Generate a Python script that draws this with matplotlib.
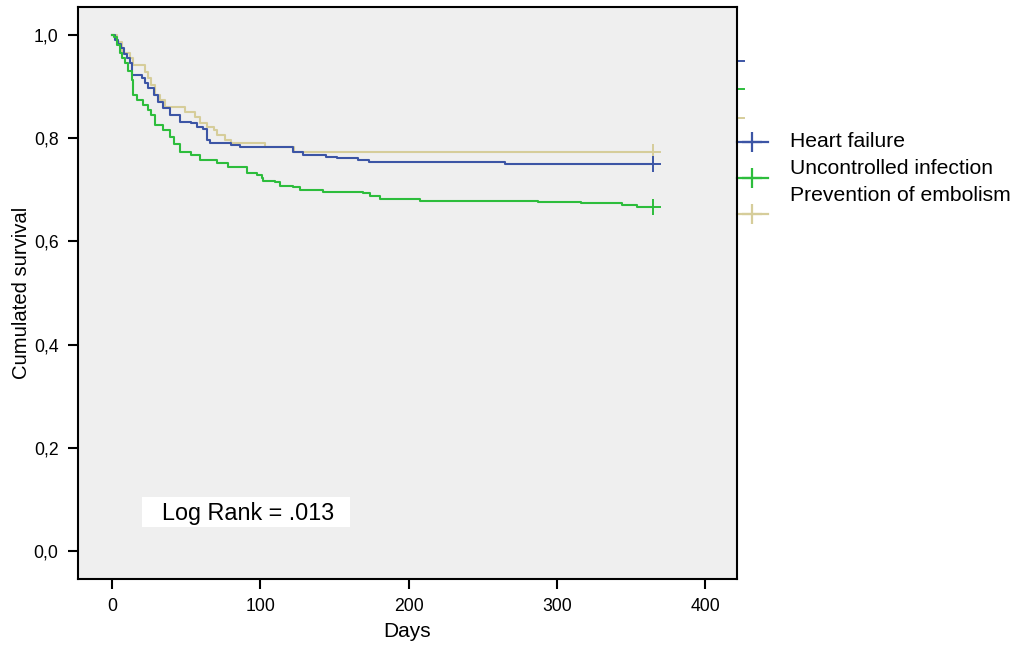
import matplotlib
matplotlib.use('Agg')
import matplotlib.pyplot as plt
from matplotlib.patches import Rectangle

plt.rcParams['font.family'] = ['Liberation Sans', 'DejaVu Sans']

# Kaplan-Meier step points: time of each event (days) and survival after it
hf_days = [0, 2, 4, 6, 8, 10, 12, 13.5, 20, 22, 24, 28, 31, 34, 39, 46, 53, 57, 61,
           64, 66, 80, 86, 122, 129, 144, 152, 166, 173, 265, 365]
hf_surv = [1.0, 0.990, 0.982, 0.975, 0.963, 0.955, 0.945, 0.922, 0.917, 0.907, 0.897,
           0.884, 0.870, 0.859, 0.845, 0.831, 0.829, 0.822, 0.818, 0.797, 0.791, 0.787,
           0.783, 0.773, 0.767, 0.764, 0.762, 0.758, 0.754, 0.750, 0.750]

inf_days = [0, 1, 3, 5, 7, 9, 11, 13.5, 14, 17, 21, 24, 26, 29, 34, 39, 42, 46, 53, 59,
            71, 78, 91, 98, 101, 102, 110, 113, 122, 127, 142, 169, 174, 181, 208, 287,
            316, 344, 354, 365]
inf_surv = [1.0, 0.996, 0.980, 0.965, 0.955, 0.946, 0.930, 0.913, 0.884, 0.874, 0.864,
            0.855, 0.845, 0.826, 0.816, 0.802, 0.788, 0.773, 0.767, 0.758, 0.752, 0.744,
            0.733, 0.729, 0.723, 0.717, 0.715, 0.707, 0.705, 0.699, 0.696, 0.694, 0.688,
            0.682, 0.678, 0.676, 0.674, 0.671, 0.667, 0.667]

emb_days = [0, 3, 7, 12, 14, 22, 24, 26, 29, 32, 36, 49, 56, 59, 64, 69, 71, 76, 80,
            103, 123, 365]
emb_surv = [1.0, 0.986, 0.965, 0.955, 0.942, 0.928, 0.917, 0.903, 0.884, 0.874, 0.860,
            0.851, 0.841, 0.829, 0.822, 0.816, 0.806, 0.797, 0.791, 0.783, 0.773, 0.773]

labels = ['Heart failure', 'Uncontrolled infection', 'Prevention of embolism']
colors = ['#3c55a5', '#2dbd3c', '#d6cd9a']
x_ticks = [0, 100, 200, 300, 400]
y_ticks = [0.0, 0.2, 0.4, 0.6, 0.8, 1.0]
log_rank = '.013'

fig = plt.figure(figsize=(10.17, 6.46), dpi=100)
ax = fig.add_axes([78 / 1017, 67 / 646, 659 / 1017, 572 / 646])
ax.set_facecolor('#efefef')

series = [(hf_days, hf_surv), (inf_days, inf_surv), (emb_days, emb_surv)]
# draw the tan curve underneath the others
for idx in [2, 0, 1]:
    d, s = series[idx]
    ax.step(d, s, where='post', color=colors[idx], lw=1.5, zorder=3)
    ax.plot(d[-1], s[-1], marker='+', ms=11, mew=1.4, color=colors[idx], zorder=4)

ax.set_xlim(-23, 421.5)
ax.set_ylim(-0.054, 1.054)
ax.set_xticks(x_ticks)
ax.set_yticks(y_ticks)
ax.set_yticklabels(['{:.1f}'.format(v).replace('.', ',') for v in y_ticks])
ax.tick_params(direction='out', length=7, width=1.5, labelsize=12.7, pad=7)
for sp in ax.spines.values():
    sp.set_linewidth(1.5)

ax.set_xlabel('Days', fontsize=15, labelpad=5)
ax.set_ylabel('Cumulated survival', fontsize=14.6, labelpad=2)

# log rank test result box
ax.add_patch(Rectangle((0.097, 0.091), 0.316, 0.052, transform=ax.transAxes,
                       facecolor='white', edgecolor='none', zorder=2))
ax.text(0.258, 0.114, 'Log Rank = ' + log_rank, transform=ax.transAxes,
        ha='center', va='center', fontsize=16.8, zorder=5)

# legend drawn by hand outside the right spine
tick_y = [0.906, 0.857, 0.806]
handle_y = [0.764, 0.701, 0.638]
text_y = [0.764, 0.717, 0.670]
for c, ty, hy, lab, txy in zip(colors, tick_y, handle_y, labels, text_y):
    ax.plot([1.0, 1.0106], [ty, ty], color=c, lw=1.4, transform=ax.transAxes,
            clip_on=False)
    ax.plot([1.0, 1.047], [hy, hy], color=c, lw=1.6, transform=ax.transAxes,
            clip_on=False)
    ax.plot([1.0228], [hy], marker='+', ms=14, mew=1.6, color=c,
            transform=ax.transAxes, clip_on=False)
    ax.text(1.080, txy, lab, transform=ax.transAxes, ha='left', va='center',
            fontsize=15.2)

fig.savefig('out.png', dpi=100)
